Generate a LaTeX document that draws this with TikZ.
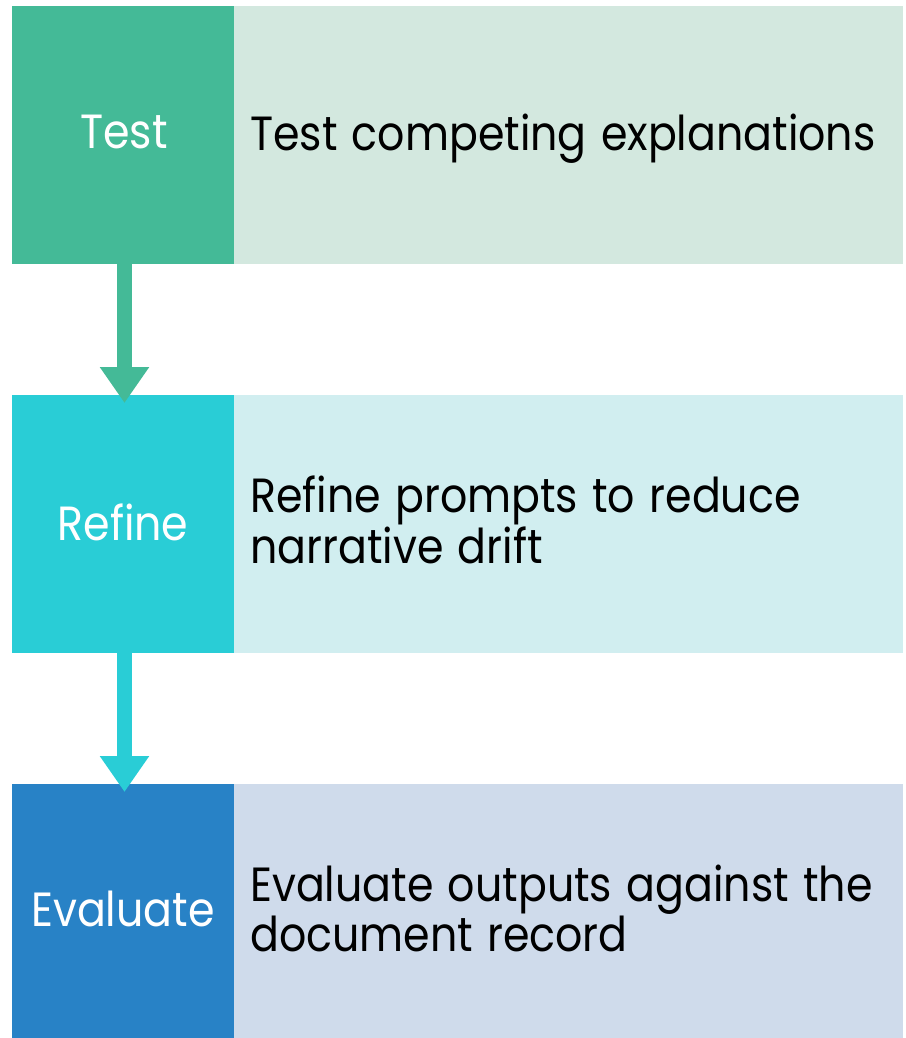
\documentclass[tikz,border=0pt]{standalone}
\usepackage{fontspec}
\setmainfont{Poppins}[FakeStretch=0.89,WordSpace=1.25]
\usetikzlibrary{arrows.meta}
\definecolor{gD}{HTML}{44BA97}
\definecolor{gL}{HTML}{D3E8DF}
\definecolor{cD}{HTML}{29CDD6}
\definecolor{cL}{HTML}{D1EEF0}
\definecolor{bD}{HTML}{2882C6}
\definecolor{bL}{HTML}{CFDBEB}
\tikzset{
  labbox/.style={inner sep=0pt, outer sep=0pt, minimum width=222pt, anchor=north west},
  txtbox/.style={inner sep=0pt, outer sep=0pt, minimum width=669pt, anchor=north west},
  lab/.style={text=white, inner sep=0pt, anchor=base, font=\fontsize{48}{50}\selectfont},
  body/.style={text=black, inner sep=0pt, anchor=base west, font=\fontsize{48}{50}\selectfont},
  flow/.style={line width=15pt, -{Triangle[width=47pt,length=36pt]}}
}
\begin{document}
\begin{tikzpicture}[x=1pt,y=-1pt]
\useasboundingbox (0,0) rectangle (905,1038);
% boxes
\node[labbox, fill=gD, minimum height=258pt] (t) at (12,6) {};
\node[txtbox, fill=gL, minimum height=258pt] (tt) at (234,6) {};
\node[labbox, fill=cD, minimum height=258pt] (r) at (12,395) {};
\node[txtbox, fill=cL, minimum height=258pt] (rt) at (234,395) {};
\node[labbox, fill=bD, minimum height=254pt] (e) at (12,784) {};
\node[txtbox, fill=bL, minimum height=254pt] (et) at (234,784) {};
% labels
\node[lab] (tl) at (124,149) {Test};
\node[lab] (rl) at (123,540) {Refine};
\node[lab] (el) at (123,926) {Evaluate};
\node[body] (t1) at (250,150) {Test competing explanations};
\node[body] (r1) at (250,512) {Refine prompts to reduce};
\node[body] (r2) at (250,563) {narrative drift};
\node[body] (e1) at (250,901) {Evaluate outputs against the};
\node[body] (e2) at (250,951) {document record};
% arrows
\draw[flow, draw=gD, fill=gD] ([xshift=1.5pt]t.south) -- ([xshift=1.5pt,yshift=-8pt]r.north);
\draw[flow, draw=cD, fill=cD] ([xshift=1.5pt]r.south) -- ([xshift=1.5pt,yshift=-8pt]e.north);
\end{tikzpicture}
\end{document}
